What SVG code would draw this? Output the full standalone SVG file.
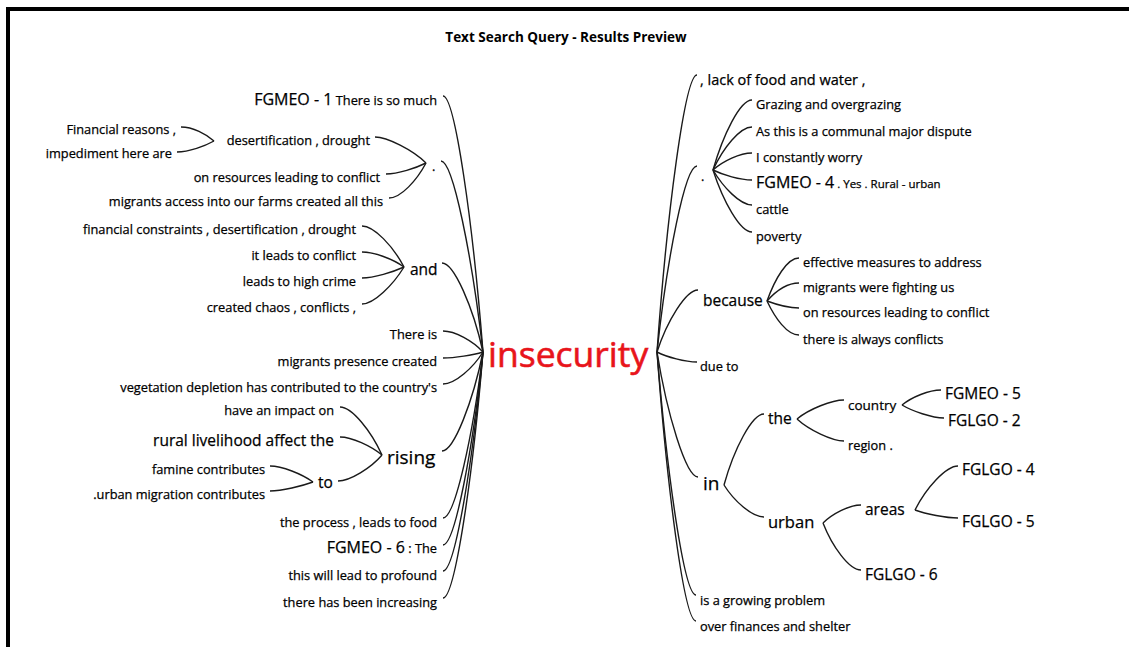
<svg xmlns="http://www.w3.org/2000/svg" width="1129" height="647" viewBox="0 0 1129 647">
<style>
text{font-family:"Open Sans","Noto Sans",sans-serif;fill:#000;stroke:#000;stroke-width:0.25px;}
.s{font-size:12.8px;}
.m{font-size:15.5px;}
.l{font-size:19px;}
.e{text-anchor:end;}
.title{font-size:13.5px;font-weight:bold;text-anchor:middle;stroke-width:0;}
.root{font-size:35.5px;fill:#e8141b;stroke:#e8141b;stroke-width:0.6px;}
#connectors path{fill:none;stroke:#1a1a1a;stroke-width:1.4;}
</style>
<rect x="0" y="0" width="1129" height="647" fill="#fff"/>
<rect x="6" y="7" width="1123" height="4" fill="#000"/>
<rect x="6" y="7" width="4" height="640" fill="#000"/>
<text class="title" x="566" y="42">Text Search Query - Results Preview</text>

<g id="connectors">
<path d="M443,96 C455,96 473,224 483,352"/>
<path d="M441,161 C453,161 472,256 483,352"/>
<path d="M442,263 C454,263 473,307 483,352"/>
<path d="M443,331 C455,331 473,341 483,352"/>
<path d="M443,358 C455,358 473,355 483,352"/>
<path d="M443,384 C455,384 473,368 483,352"/>
<path d="M442,451 C454,451 473,401 483,352"/>
<path d="M443,518 C455,518 473,435 483,352"/>
<path d="M443,545 C455,545 473,448 483,352"/>
<path d="M443,571 C455,571 473,461 483,352"/>
<path d="M443,598 C455,598 473,475 483,352"/>
<path d="M375,137 C387,137 413,150 426,163"/>
<path d="M386,174 C398,174 416,168 426,163"/>
<path d="M389,198 C401,198 417,180 426,163"/>
<path d="M181,127 C193,127 206,134 214,141"/>
<path d="M177,152 C189,152 205,146 214,141"/>
<path d="M362,226 C374,226 393,246 404,267"/>
<path d="M362,252 C374,252 393,259 404,267"/>
<path d="M362,278 C374,278 393,272 404,267"/>
<path d="M362,304 C374,304 393,285 404,267"/>
<path d="M340,407 C352,407 371,431 382,455"/>
<path d="M340,437 C352,437 371,446 382,455"/>
<path d="M338,481 C350,481 371,468 382,455"/>
<path d="M270,466 C282,466 302,474 313,482"/>
<path d="M270,491 C282,491 302,486 313,482"/>
<path d="M657,352 C667,213 685,75 697,75"/>
<path d="M657,352 C667,259 685,166 697,166"/>
<path d="M657,352 C667,321 686,290 698,290"/>
<path d="M657,352 C667,357 685,362 697,362"/>
<path d="M657,352 C667,414 686,477 698,477"/>
<path d="M657,352 C667,473 684,595 696,595"/>
<path d="M657,352 C667,486 684,621 696,621"/>
<path d="M713,170 C723,135 740,100 752,100"/>
<path d="M713,170 C723,148 740,127 752,127"/>
<path d="M713,170 C723,161 740,153 752,153"/>
<path d="M713,170 C723,175 740,180 752,180"/>
<path d="M713,170 C723,187 740,205 752,205"/>
<path d="M713,170 C723,201 740,232 752,232"/>
<path d="M767,301 C775,279 787,258 799,258"/>
<path d="M767,301 C775,292 787,283 799,283"/>
<path d="M767,301 C775,304 787,308 799,308"/>
<path d="M767,301 C775,318 787,335 799,335"/>
<path d="M724,485 C734,449 752,414 764,414"/>
<path d="M724,485 C734,501 752,517 764,517"/>
<path d="M797,419 C809,409 832,400 844,400"/>
<path d="M797,419 C809,430 832,441 844,441"/>
<path d="M902,405 C912,397 929,390 941,390"/>
<path d="M902,405 C912,411 932,418 944,418"/>
<path d="M823,523 C832,514 849,505 861,505"/>
<path d="M823,523 C832,546 849,570 861,570"/>
<path d="M915,510 C926,488 946,466 958,466"/>
<path d="M915,510 C926,514 946,518 958,518"/>
</g>

<g id="root"><text class="root" x="488" y="367">insecurity</text></g>

<g id="l-fgmeo1"><text class="s e" x="437" y="105"><tspan font-size="16">FGMEO - 1</tspan> There is so much</text></g>
<g id="l-dot"><text class="s" x="432" y="171">.</text></g>
<g id="l-desert"><text class="s e" x="370" y="144.5">desertification , drought</text></g>
<g id="l-financial"><text class="s e" x="176" y="133.5">Financial reasons ,</text></g>
<g id="l-impediment"><text class="s e" x="172" y="157.5">impediment here are</text></g>
<g id="l-onres"><text class="s e" x="380" y="181.5">on resources leading to conflict</text></g>
<g id="l-migaccess"><text class="s e" x="383" y="205.5">migrants access into our farms created all this</text></g>
<g id="l-and"><text class="m" x="410" y="274.5">and</text></g>
<g id="l-fincon"><text class="s e" x="356" y="233.5">financial constraints , desertification , drought</text></g>
<g id="l-itleads"><text class="s e" x="356" y="259.5">it leads to conflict</text></g>
<g id="l-highcrime"><text class="s e" x="356" y="285.5">leads to high crime</text></g>
<g id="l-chaos"><text class="s e" x="356" y="311.5">created chaos , conflicts ,</text></g>
<g id="l-thereis"><text class="s e" x="437" y="338.5">There is</text></g>
<g id="l-migpres"><text class="s e" x="437" y="365.5">migrants presence created</text></g>
<g id="l-veg"><text class="s e" x="437" y="391.5">vegetation depletion has contributed to the country's</text></g>
<g id="l-rising"><text class="l" x="387" y="464">rising</text></g>
<g id="l-impact"><text class="s e" x="334" y="414.5">have an impact on</text></g>
<g id="l-rural"><text class="m e" x="334" y="445.5">rural livelihood affect the</text></g>
<g id="l-to"><text class="m" x="318" y="488">to</text></g>
<g id="l-famine"><text class="s e" x="265" y="473.5">famine contributes</text></g>
<g id="l-urbanmig"><text class="s e" x="265" y="498.5">.urban migration contributes</text></g>
<g id="l-process"><text class="s e" x="437" y="526.5">the process , leads to food</text></g>
<g id="l-fgmeo6"><text class="s e" x="437" y="553"><tspan font-size="16">FGMEO - 6</tspan> : The</text></g>
<g id="l-profound"><text class="s e" x="437" y="579.5">this will lead to profound</text></g>
<g id="l-increasing"><text class="s e" x="437" y="606.5">there has been increasing</text></g>

<g id="r-lack"><text x="700" y="85" font-size="14.5">, lack of food and water ,</text></g>
<g id="r-dot"><text class="s" x="701" y="181">.</text></g>
<g id="r-grazing"><text class="s" x="756" y="108.5">Grazing and overgrazing</text></g>
<g id="r-communal"><text class="s" x="756" y="135.5">As this is a communal major dispute</text></g>
<g id="r-worry"><text class="s" x="756" y="161.5">I constantly worry</text></g>
<g id="r-fgmeo4"><text x="756" y="188" font-size="11.5"><tspan font-size="16">FGMEO - 4</tspan> . Yes . Rural - urban</text></g>
<g id="r-cattle"><text class="s" x="756" y="213.5">cattle</text></g>
<g id="r-poverty"><text class="s" x="756" y="240.5">poverty</text></g>
<g id="r-because"><text class="m" x="703" y="305.5">because</text></g>
<g id="r-effective"><text class="s" x="803" y="266.5">effective measures to address</text></g>
<g id="r-fighting"><text class="s" x="803" y="291.5">migrants were fighting us</text></g>
<g id="r-onres"><text class="s" x="803" y="316.5">on resources leading to conflict</text></g>
<g id="r-always"><text class="s" x="803" y="343.5">there is always conflicts</text></g>
<g id="r-dueto"><text class="s" x="700" y="370.5">due to</text></g>
<g id="r-in"><text class="l" x="703" y="490">in</text></g>
<g id="r-the"><text class="m" x="768" y="423.5">the</text></g>
<g id="r-country"><text x="848" y="409.5" font-size="13.5">country</text></g>
<g id="r-fgmeo5"><text class="m" x="945" y="398.5">FGMEO - 5</text></g>
<g id="r-fglgo2"><text class="m" x="948" y="425.5">FGLGO - 2</text></g>
<g id="r-region"><text class="s" x="848" y="449.5">region .</text></g>
<g id="r-urban"><text x="768" y="527.5" font-size="16.5">urban</text></g>
<g id="r-areas"><text class="m" x="865" y="514.5">areas</text></g>
<g id="r-fglgo4"><text class="m" x="962" y="474.5">FGLGO - 4</text></g>
<g id="r-fglgo5"><text class="m" x="962" y="526.5">FGLGO - 5</text></g>
<g id="r-fglgo6"><text class="m" x="865" y="579.5">FGLGO - 6</text></g>
<g id="r-growing"><text class="s" x="700" y="604.5">is a growing problem</text></g>
<g id="r-finances"><text class="s" x="700" y="630.5">over finances and shelter</text></g>
</svg>
